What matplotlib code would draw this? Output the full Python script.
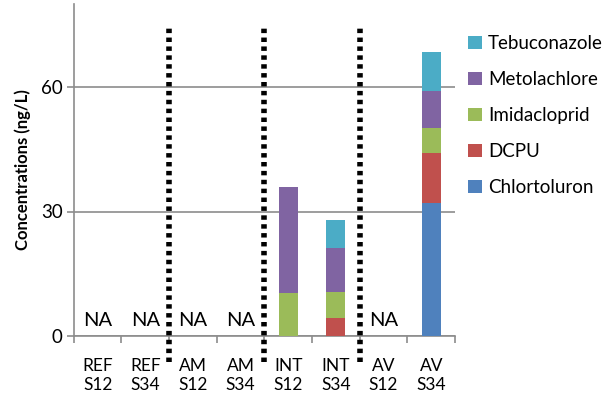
import matplotlib
matplotlib.use('Agg')
import matplotlib.pyplot as plt
import numpy as np

# Sample sites and seasons
categories = ['REF\nS12', 'REF\nS34', 'AM\nS12', 'AM\nS34',
              'INT\nS12', 'INT\nS34', 'AV\nS12', 'AV\nS34']
not_analysed = [True, True, True, True, False, False, True, False]

# Concentrations (ng/L), stacked bottom to top
chlortoluron = [0, 0, 0, 0, 0.0, 0.0, 0, 32.1]
dcpu         = [0, 0, 0, 0, 0.0, 4.3, 0, 12.1]
imidacloprid = [0, 0, 0, 0, 10.3, 6.2, 0, 5.9]
metolachlore = [0, 0, 0, 0, 25.7, 10.8, 0, 8.9]
tebuconazole = [0, 0, 0, 0, 0.0, 6.7, 0, 9.4]

series = [('Chlortoluron', chlortoluron, '#4F81BD'),
          ('DCPU', dcpu, '#C0504D'),
          ('Imidacloprid', imidacloprid, '#9BBB59'),
          ('Metolachlore', metolachlore, '#8064A2'),
          ('Tebuconazole', tebuconazole, '#4BACC6')]

# Group separators (between categories)
separators = [2, 4, 6]

plt.rcParams['font.family'] = ['Lato', 'DejaVu Sans']

fig = plt.figure(figsize=(6.1, 4.0), dpi=100)
ax = fig.add_axes([0.121, 0.16, 0.625, 0.83])

x = np.arange(len(categories)) + 0.5
bottom = np.zeros(len(categories))
for name, values, color in series:
    ax.bar(x, values, width=0.4, bottom=bottom, color=color, label=name, zorder=3)
    bottom += np.array(values)

for xi, na in zip(x, not_analysed):
    if na:
        ax.text(xi, 1.7, 'NA', ha='center', va='bottom', fontsize=14.5, color='black')

for s in separators:
    ax.axvline(s, ymin=-0.078, ymax=0.937, color='black', linestyle=(0, (0.8, 0.8)),
               linewidth=4, clip_on=False, zorder=4)

ax.set_xlim(0, len(categories))
ax.set_ylim(0, 80)
ax.set_yticks([0, 30, 60])
ax.yaxis.grid(True, color='#8c8c8c', linewidth=1.2, zorder=0)
ax.set_xticks(x)
ax.set_xticklabels(categories, fontsize=12.5, linespacing=1.25)
ax.set_xticks(np.arange(len(categories) + 1), minor=True)
ax.tick_params(axis='x', which='major', length=0, pad=16)
ax.tick_params(axis='x', which='minor', length=5, color='#8c8c8c', width=1.2, direction='out')
ax.tick_params(axis='y', length=5, color='#8c8c8c', width=1.2, labelsize=13.5, pad=3)

for side in ['top', 'right']:
    ax.spines[side].set_visible(False)
for side in ['left', 'bottom']:
    ax.spines[side].set_color('#8c8c8c')
    ax.spines[side].set_linewidth(1.2)

ax.set_ylabel('Concentrations (ng/L)', fontsize=12, fontweight='bold', labelpad=7)

handles, labels = ax.get_legend_handles_labels()
fig.legend(handles[::-1], labels[::-1], loc='upper left', bbox_to_anchor=(0.768, 0.913),
           frameon=False, fontsize=13.5, handlelength=0.7, handleheight=0.7,
           labelspacing=1.02, handletextpad=0.35, borderpad=0, borderaxespad=0)

fig.savefig('out.png', dpi=100)
